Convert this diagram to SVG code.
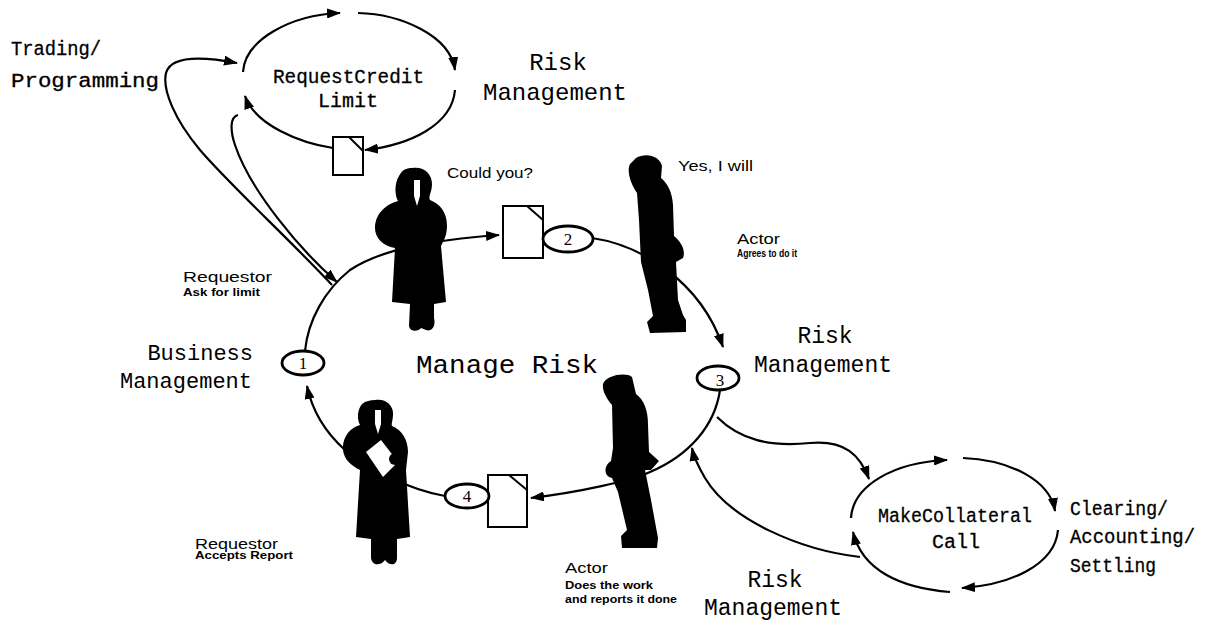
<svg xmlns="http://www.w3.org/2000/svg" width="1219" height="620" viewBox="0 0 1219 620">
  <defs>
    <marker id="ah" viewBox="0 0 14 10" refX="13" refY="5" markerWidth="14" markerHeight="10" markerUnits="userSpaceOnUse" orient="auto">
      <path d="M0,0 L14,5 L0,10 Z" fill="#000"/>
    </marker>
  </defs>
  <style>
    .ln { fill: none; stroke: #000; stroke-width: 2.2; }
    .arr { marker-end: url(#ah); }
    .doc { fill: #fff; stroke: #000; stroke-width: 2; }
    .fold { fill: none; stroke: #000; stroke-width: 2; }
    .step { fill: #fff; stroke: #000; stroke-width: 2.8; }
    .num { font-family: "Liberation Serif", serif; font-size: 17px; text-anchor: middle; fill: #000; }
    .mono { font-family: "Liberation Mono", "Courier New", monospace; fill: #000; }
    .big { font-size: 23px; }
    .heavy { font-size: 20px; stroke: #000; stroke-width: 0.3; }
    .small { font-family: "Liberation Sans", Arial, sans-serif; font-size: 14px; fill: #000; }
    .tiny { font-family: "Liberation Sans", Arial, sans-serif; font-size: 10px; font-weight: bold; fill: #000; }
    .fig { fill: #000; }
    .hole { fill: #fff; }
  </style>
  <rect width="1219" height="620" fill="#fff"/>

  <!-- connectors -->
  <g id="connectors">
    <!-- Request Credit Limit loop -->
    <path class="ln arr" d="M243,72 C245,40 290,15 340,13"/>
    <path class="ln arr" d="M358,13 C400,14 450,35 455,70"/>
    <path class="ln arr" d="M455,90 C452,125 410,145 365,150"/>
    <path class="ln arr" d="M333,148 C300,143 255,125 245,96"/>
    <!-- links between the main loop and the credit loop -->
    <path class="ln arr" d="M332,285 C290,240 230,185 200,150 C175,120 162,90 166,73 C170,58 195,55 237,63"/>
    <path class="ln arr" d="M238,115 C230,117 230,130 235,145 C250,190 300,250 337,282"/>
    <!-- Manage Risk loop -->
    <path class="ln arr" d="M305,351 C308,320 325,290 350,270 C380,250 430,240 499,235"/>
    <path class="ln arr" d="M592,238 C640,245 700,280 723,347"/>
    <path class="ln arr" d="M720,390 C715,425 690,455 650,472 C630,481 580,492 531,498"/>
    <path class="ln arr" d="M445,496 C410,490 370,470 345,450 C325,432 312,410 307,386"/>
    <!-- links between the main loop and the collateral loop -->
    <path class="ln arr" d="M717,417 C740,440 770,447 810,443 C845,440 860,455 869,479"/>
    <path class="ln arr" d="M860,557 C800,550 730,520 705,478 C698,466 694,458 692,448"/>
    <!-- Make Collateral Call loop -->
    <path class="ln arr" d="M851,518 C853,485 895,462 947,460"/>
    <path class="ln arr" d="M963,458 C1010,460 1050,480 1055,511"/>
    <path class="ln arr" d="M1058,530 C1055,565 1010,585 962,588"/>
    <path class="ln arr" d="M950,592 C900,588 862,570 853,532"/>
  </g>

  <!-- credit limit request -->
  <g id="credit-loop">
    <text class="mono heavy" x="273" y="83" textLength="151" lengthAdjust="spacingAndGlyphs">RequestCredit</text>
    <text class="mono heavy" x="348" y="107" text-anchor="middle">Limit</text>
  </g>
  <g id="doc-credit">
    <rect class="doc" x="333" y="137" width="30" height="38"/>
    <path class="fold" d="M349,137 L363,151"/>
  </g>

  <g id="trading">
    <text class="mono heavy" x="11" y="55" font-size="21" textLength="90" lengthAdjust="spacingAndGlyphs">Trading/</text>
    <text class="mono heavy" x="11" y="87" font-size="21" textLength="148" lengthAdjust="spacingAndGlyphs">Programming</text>
  </g>

  <g id="risk-top">
    <text class="mono" x="558" y="70" font-size="24" text-anchor="middle">Risk</text>
    <text class="mono" x="555" y="100" font-size="24" text-anchor="middle">Management</text>
  </g>

  <g id="manage-risk">
    <text class="mono" x="416" y="373" font-size="26" textLength="182" lengthAdjust="spacingAndGlyphs">Manage Risk</text>
  </g>

  <g id="business">
    <text class="mono" x="253" y="360" font-size="22" text-anchor="end">Business</text>
    <text class="mono" x="252" y="388" font-size="22" text-anchor="end">Management</text>
  </g>

  <g id="risk-right">
    <text class="mono big" x="825" y="343" text-anchor="middle">Risk</text>
    <text class="mono big" x="823" y="372" text-anchor="middle">Management</text>
  </g>

  <g id="risk-bottom">
    <text class="mono big" x="775" y="587" text-anchor="middle">Risk</text>
    <text class="mono big" x="773" y="615" text-anchor="middle">Management</text>
  </g>

  <g id="collateral-loop">
    <text class="mono heavy" x="878" y="522" font-size="18" textLength="154" lengthAdjust="spacingAndGlyphs">MakeCollateral</text>
    <text class="mono heavy" x="956" y="548" font-size="18" text-anchor="middle">Call</text>
  </g>

  <g id="clearing">
    <text class="mono heavy" x="1070" y="515" font-size="19" textLength="98" lengthAdjust="spacingAndGlyphs">Clearing/</text>
    <text class="mono heavy" x="1070" y="543" font-size="19" textLength="125" lengthAdjust="spacingAndGlyphs">Accounting/</text>
    <text class="mono heavy" x="1070" y="572" font-size="19" textLength="86" lengthAdjust="spacingAndGlyphs">Settling</text>
  </g>

  <!-- requestor asking -->
  <g id="requestor-ask">
    <path class="fig" d="M412,168 C424,166 432,174 432,184 C432,192 428,197 430,200 C440,204 447,212 447,226 C447,236 443,242 441,246 L446,302 L434,304 L434,318 C436,326 432,332 426,330 L421,328 C418,332 410,332 409,326 L410,304 L392,302 L395,248 C383,246 375,238 375,228 C375,214 386,204 398,201 C394,194 395,182 399,176 C402,170 406,168 412,168 Z"/>
    <path class="hole" d="M414,180 L420,180 L420,196 L417,206 L414,196 Z"/>
    <text class="small" x="447" y="178" font-size="15" textLength="86" lengthAdjust="spacingAndGlyphs">Could you?</text>
    <text class="small" x="183" y="282" textLength="89" lengthAdjust="spacingAndGlyphs">Requestor</text>
    <text class="tiny" x="183" y="296" textLength="77" lengthAdjust="spacingAndGlyphs">Ask for limit</text>
  </g>

  <g id="doc-request">
    <rect class="doc" x="503" y="206" width="40" height="52"/>
    <path class="fold" d="M527,206 L543,220"/>
  </g>
  <g id="step-2">
    <ellipse class="step" cx="568" cy="239" rx="25" ry="13"/>
    <text class="num" x="568" y="245">2</text>
  </g>

  <!-- actor agreeing -->
  <g id="actor-agree">
    <path class="fig" d="M636,158 C646,152 660,156 662,166 L661,178 C668,184 672,192 673,205 L674,236 C681,242 686,250 683,258 L676,262 L678,300 L683,315 L686,320 L686,332 L650,333 L647,322 L653,316 L648,290 L641,262 L639,220 L637,193 C632,186 626,172 630,164 Z"/>
    <text class="small" x="678" y="171" font-size="15" textLength="75" lengthAdjust="spacingAndGlyphs">Yes, I will</text>
    <text class="small" x="737" y="244" textLength="43" lengthAdjust="spacingAndGlyphs">Actor</text>
    <text class="tiny" x="737" y="257" textLength="60" lengthAdjust="spacingAndGlyphs">Agrees to do it</text>
  </g>

  <g id="step-3">
    <ellipse class="step" cx="718" cy="378" rx="21" ry="12"/>
    <text class="num" x="720" y="386">3</text>
  </g>

  <!-- actor reporting -->
  <g id="actor-report">
    <path class="fig" d="M603,384 C606,375 626,372 632,377 L636,394 C644,400 648,410 648,425 L649,452 L659,461 L651,470 L645,470 L651,500 L658,538 L657,548 L622,548 L621,536 L627,530 L618,492 L612,478 C604,477 603,466 611,461 L613,448 L612,405 C606,398 602,390 603,384 Z"/>
    <text class="small" x="565" y="573" textLength="43" lengthAdjust="spacingAndGlyphs">Actor</text>
    <text class="tiny" x="565" y="589" textLength="88" lengthAdjust="spacingAndGlyphs">Does the work</text>
    <text class="tiny" x="565" y="603" textLength="112" lengthAdjust="spacingAndGlyphs">and reports it done</text>
  </g>

  <g id="doc-report">
    <rect class="doc" x="488" y="475" width="39" height="52"/>
    <path class="fold" d="M509,475 L527,490"/>
  </g>
  <g id="step-4">
    <ellipse class="step" cx="467" cy="496" rx="22" ry="12"/>
    <text class="num" x="467" y="502">4</text>
  </g>

  <!-- requestor accepting -->
  <g id="requestor-accept">
    <path class="fig" d="M375,400 C386,398 394,406 393,415 C393,420 391,424 392,426 C402,430 408,440 408,452 L406,470 L410,537 L397,539 L397,558 C397,566 389,566 385,560 C381,566 372,566 371,558 L371,539 L356,537 L360,470 C352,466 344,460 343,450 C342,437 350,428 360,425 C357,420 357,410 362,404 C366,401 370,400 375,400 Z"/>
    <path class="hole" d="M375,410 L381,410 L381,424 L378,434 L375,424 Z"/>
    <path class="hole" d="M366,452 L381,440 L398,462 L383,477 Z"/>
    <circle class="fig" cx="395" cy="459" r="6"/>
    <text class="small" x="195" y="549" textLength="83" lengthAdjust="spacingAndGlyphs">Requestor</text>
    <text class="tiny" x="195" y="559" textLength="98" lengthAdjust="spacingAndGlyphs">Accepts Report</text>
  </g>

  <g id="step-1">
    <ellipse class="step" cx="303" cy="363" rx="21" ry="12"/>
    <text class="num" x="303" y="369">1</text>
  </g>
</svg>
